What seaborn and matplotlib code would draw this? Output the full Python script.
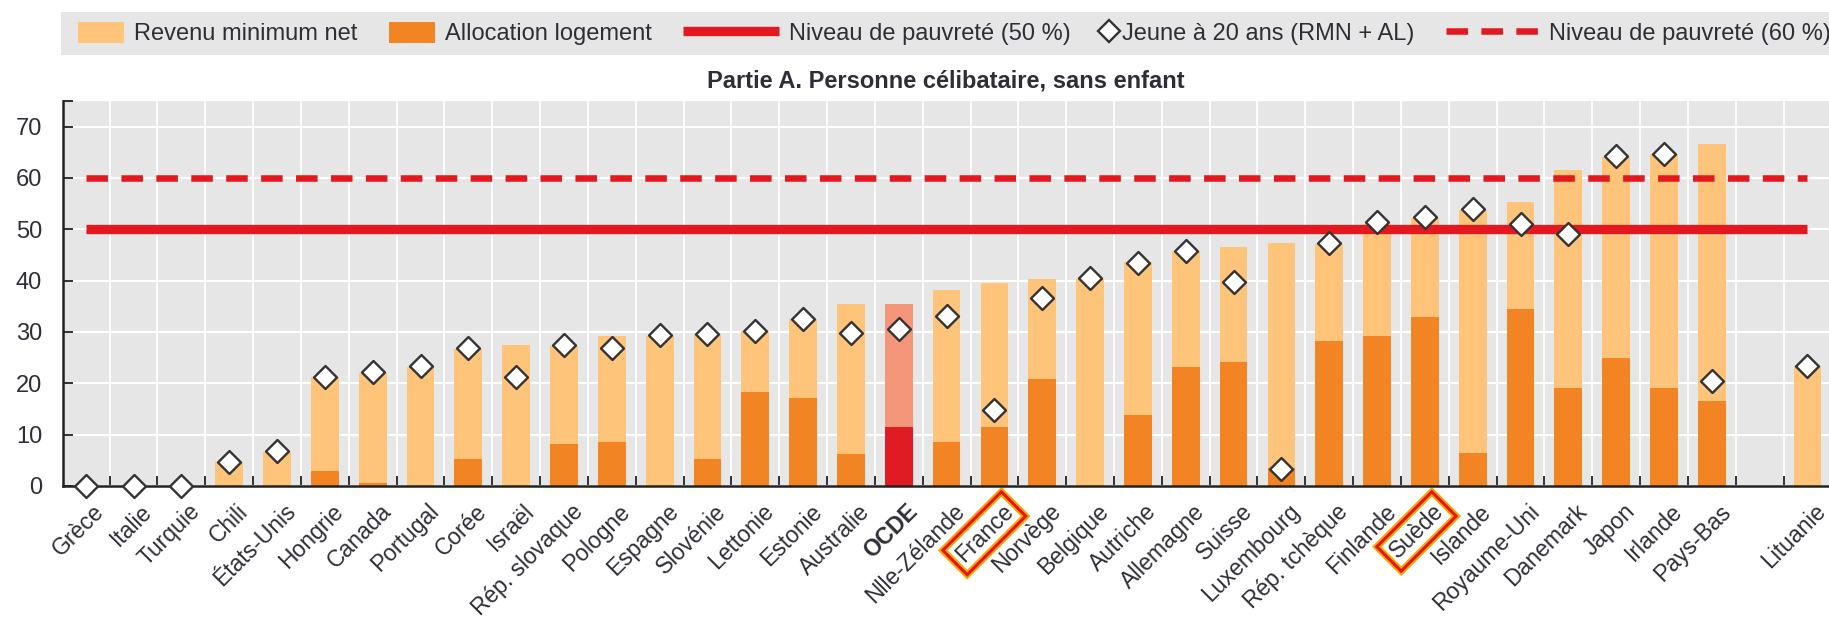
import numpy as np
import pandas as pd
import matplotlib
matplotlib.use('Agg')
import matplotlib.pyplot as plt
import matplotlib.patches as mpatches
import matplotlib.patheffects as pe
from matplotlib.lines import Line2D
from matplotlib.legend_handler import HandlerPatch, HandlerLine2D
from matplotlib.transforms import ScaledTranslation
import seaborn as sns

# valeurs (% du revenu médian)
pays = ['Grèce', 'Italie', 'Turquie', 'Chili', 'États-Unis', 'Hongrie', 'Canada',
        'Portugal', 'Corée', 'Israël', 'Rép. slovaque', 'Pologne', 'Espagne',
        'Slovénie', 'Lettonie', 'Estonie', 'Australie', 'OCDE', 'Nlle-Zélande',
        'France', 'Norvège', 'Belgique', 'Autriche', 'Allemagne', 'Suisse',
        'Luxembourg', 'Rép. tchèque', 'Finlande', 'Suède', 'Islande',
        'Royaume-Uni', 'Danemark', 'Japon', 'Irlande', 'Pays-Bas', 'Lituanie']
revenu_total = [0, 0, 0, 4.7, 6.7, 21.3, 22.1, 23.2, 26.7, 27.4, 27.3, 29.3, 29.3,
                29.6, 30.1, 32.5, 35.4, 35.4, 38.1, 39.5, 40.4, 40.3, 43.6, 45.8,
                46.5, 47.4, 47.2, 51.0, 52.3, 53.8, 55.4, 61.5, 64.0, 64.7, 66.7, 23.3]
allocation = [0, 0, 0, 0, 0, 2.9, 0.6, 0, 5.3, 0, 8.2, 8.6, 0, 5.3, 18.4, 17.1,
              6.3, 11.4, 8.6, 11.4, 20.8, 0, 13.8, 23.1, 24.1, 3.5, 28.3, 29.2,
              33.0, 6.4, 34.4, 19.0, 25.0, 19.0, 16.6, 0]
jeune_20ans = [0, 0, 0, 4.7, 6.8, 21.3, 22.3, 23.3, 26.8, 21.2, 27.4, 26.8, 29.4,
               29.6, 30.1, 32.6, 29.8, 30.6, 33.1, 14.8, 36.6, 40.5, 43.5, 45.7,
               39.7, 3.3, 47.4, 51.5, 52.5, 54.0, 51.0, 49.1, 64.2, 64.7, 20.5, 23.3]
seuil_50 = 50
seuil_60 = 60
pays_encadres = ['France', 'Suède']

c_revenu = '#FDC47A'
c_alloc = '#F28423'
c_ocde_revenu = '#F4967A'
c_ocde_alloc = '#E01B24'
c_rouge = '#E3191F'
c_texte = '#2E2E38'

plt.rcParams['font.family'] = ['Liberation Sans', 'DejaVu Sans']

df = pd.DataFrame({'pays': pays, 'revenu': revenu_total,
                   'allocation': allocation, 'jeune': jeune_20ans})
df['groupe'] = np.where(df['pays'] == 'OCDE', 'OCDE', 'pays')

# un emplacement vide avant la Lituanie
ordre = pays[:-1] + [' '] + pays[-1:]
n = len(ordre)

fig = plt.figure(figsize=(18.29, 6.23), dpi=100)
ax = fig.add_axes([63 / 1829, 1 - 486 / 623, 1 - 63 / 1829, 385 / 623])

sns.barplot(data=df, x='pays', y='revenu', hue='groupe', order=ordre,
            palette={'pays': c_revenu, 'OCDE': c_ocde_revenu}, dodge=False,
            width=0.58, saturation=1, errorbar=None, legend=False, ax=ax)
sns.barplot(data=df, x='pays', y='allocation', hue='groupe', order=ordre,
            palette={'pays': c_alloc, 'OCDE': c_ocde_alloc}, dodge=False,
            width=0.58, saturation=1, errorbar=None, legend=False, ax=ax)

ax.plot([0, n - 1], [seuil_50, seuil_50], color=c_rouge, lw=6.7,
        solid_capstyle='butt', zorder=4)
ax.plot([0, n - 1], [seuil_60, seuil_60], color=c_rouge, lw=4.7,
        dashes=(3.3, 2.05), dash_capstyle='butt', zorder=4)

sns.stripplot(data=df, x='pays', y='jeune', order=ordre, jitter=False, marker='D',
              size=11.7, color='white', edgecolor='#333333', linewidth=1.7,
              zorder=6, clip_on=False, ax=ax)

ax.set_xlim(-0.475, 36.45)
ax.set_ylim(0, 75)
ax.set_yticks(range(0, 80, 10))
ax.set_yticks([75], minor=True)
ax.set_xticks(np.arange(0.5, n - 1, 1), minor=True)
ax.set_xlabel('')
ax.set_ylabel('')

ax.set_facecolor('#E6E6E6')
ax.set_axisbelow(True)
ax.grid(axis='y', which='major', color='white', lw=1.5)
ax.grid(axis='x', which='minor', color='white', lw=1.3)
ax.grid(axis='x', which='major', visible=False)

sns.despine(ax=ax)
for cote in ['left', 'bottom']:
    ax.spines[cote].set_linewidth(1.8)
    ax.spines[cote].set_color('#222222')

ax.tick_params(axis='y', which='both', direction='in', length=7, width=1.3,
               color='#222222', labelsize=17, labelcolor=c_texte, pad=15)
ax.tick_params(axis='x', which='major', length=0, pad=10, labelsize=16.5,
               labelcolor=c_texte)
ax.tick_params(axis='x', which='minor', direction='in', length=7, width=1.3,
               color='#222222')

decalage = ScaledTranslation(5 / 72, 0, fig.dpi_scale_trans)
for lab in ax.get_xticklabels():
    lab.set_rotation(45)
    lab.set_ha('right')
    lab.set_rotation_mode('anchor')
    lab.set_transform(lab.get_transform() + decalage)
    if lab.get_text() == 'OCDE':
        lab.set_fontweight('bold')
    if lab.get_text() in pays_encadres:
        lab.set_bbox(dict(boxstyle='square,pad=0.25', fc='none', ec='#E4151F', lw=2.2))
        lab.get_bbox_patch().set_path_effects(
            [pe.withStroke(linewidth=5, foreground='#F6A800')])

ax.set_title('Partie A. Personne célibataire, sans enfant', fontsize=17,
             fontweight='bold', color=c_texte, pad=10)


# poignées de légende de largeurs différentes
class PatchLargeur(HandlerPatch):
    def __init__(self, largeur, **kw):
        super().__init__(**kw)
        self.largeur = largeur

    def legend_artist(self, legend, orig_handle, fontsize, handlebox):
        handlebox.width = self.largeur
        return super().legend_artist(legend, orig_handle, fontsize, handlebox)


class LigneLargeur(HandlerLine2D):
    def __init__(self, largeur, **kw):
        super().__init__(**kw)
        self.largeur = largeur

    def legend_artist(self, legend, orig_handle, fontsize, handlebox):
        handlebox.width = self.largeur
        return super().legend_artist(legend, orig_handle, fontsize, handlebox)


h_revenu = mpatches.Patch(facecolor=c_revenu, label='Revenu minimum net')
h_alloc = mpatches.Patch(facecolor=c_alloc, label='Allocation logement')
h_50 = Line2D([], [], color=c_rouge, lw=6.7, solid_capstyle='butt',
              label='Niveau de pauvreté (50 %)')
h_jeune = Line2D([], [], ls='none', marker='D', ms=11.7, mfc='white',
                 mec='#333333', mew=1.7, label='Jeune à 20 ans (RMN + AL)')
h_60 = Line2D([], [], color=c_rouge, lw=4.7, dashes=(3.3, 2.05),
              dash_capstyle='butt', label='Niveau de pauvreté (60 %)')

fig.add_artist(mpatches.Rectangle((61 / 1829, 1 - 55 / 623), 1768 / 1829, 43 / 623,
                                  transform=fig.transFigure, facecolor='#E6E6E6',
                                  edgecolor='none', zorder=0))
fig.legend(handles=[h_revenu, h_alloc, h_50, h_jeune, h_60],
           handler_map={h_revenu: PatchLargeur(33), h_alloc: PatchLargeur(33),
                        h_50: LigneLargeur(69),
                        h_jeune: LigneLargeur(6.5, xpad=0.127),
                        h_60: LigneLargeur(67)},
           loc='center left', bbox_to_anchor=(78 / 1829, 1 - 33.5 / 623), ncol=5,
           frameon=False, fontsize=17, handletextpad=0.42, columnspacing=1.35,
           borderpad=0, borderaxespad=0, handleheight=0.98, labelcolor=c_texte)

fig.savefig('out.png', dpi=100)
